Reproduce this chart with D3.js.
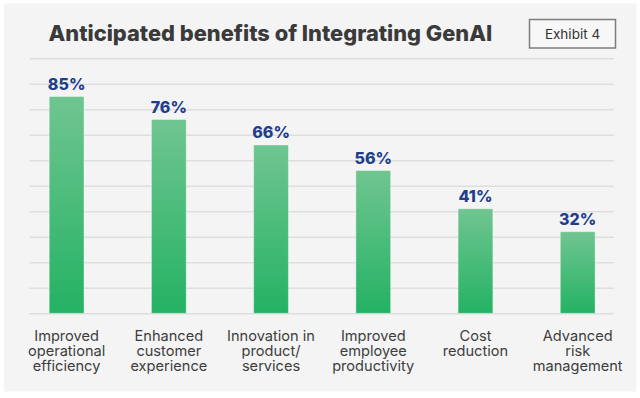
<!DOCTYPE html>
<html>
<head>
<meta charset="utf-8">
<script src="https://cdn.jsdelivr.net/npm/d3@7"></script>
<style>
  body { margin: 0; background: #fff; }
  svg { display: block; font-family: Inter, "Open Sans", sans-serif; }
</style>
</head>
<body>
<script>
// values
var categories = [
  ["Improved", "operational", "efficiency"],
  ["Enhanced", "customer", "experience"],
  ["Innovation in", "product/", "services"],
  ["Improved", "employee", "productivity"],
  ["Cost", "reduction"],
  ["Advanced", "risk", "management"]
];
var values = [85, 76, 66, 56, 41, 32];
var gridTicks = [0, 10, 20, 30, 40, 50, 60, 70, 80, 90, 100];
var title = "Anticipated benefits of Integrating GenAI";
var badge = "Exhibit 4";

var width = 640, height = 398;

var svg = d3.select("body").append("svg")
    .attr("width", width)
    .attr("height", height);

// gradient for the bars
var grad = svg.append("defs").append("linearGradient")
    .attr("id", "barGrad")
    .attr("x1", 0).attr("y1", 0).attr("x2", 0).attr("y2", 1);
grad.append("stop").attr("offset", "0%").attr("stop-color", "#70c590");
grad.append("stop").attr("offset", "100%").attr("stop-color", "#24b264");

// grey card
svg.append("rect")
    .attr("x", 4).attr("y", 3.5)
    .attr("width", 632.5).attr("height", 388)
    .attr("fill", "#f4f4f4");

// title, fitted to the width it has in the picture
var t = svg.append("text")
    .attr("x", 48.5).attr("y", 40.5)
    .attr("fill", "#3a3a3a")
    .style("font-weight", 800)
    .style("font-size", "22px")
    .text(title);
var tw = t.node().getComputedTextLength();
t.style("font-size", (22 * 444 / tw).toFixed(2) + "px");

// badge
svg.append("rect")
    .attr("x", 529.5).attr("y", 19.5)
    .attr("width", 86).attr("height", 28.5)
    .attr("fill", "#f7f7f7")
    .attr("stroke", "#7d7d7d")
    .attr("stroke-width", 1.5);
svg.append("text")
    .attr("x", 572.5).attr("y", 38.8)
    .attr("text-anchor", "middle")
    .attr("fill", "#333")
    .style("font-size", "13.5px")
    .text(badge);

// scales
var x = d3.scaleBand()
    .domain(d3.range(values.length))
    .range([15.5, 628.8])
    .paddingInner(0.66)
    .paddingOuter(0.33);

var y = d3.scaleLinear()
    .domain([0, 100])
    .range([313.3, 58.3]);

// grid
var yAxis = d3.axisLeft(y).tickValues(gridTicks).tickSize(-(614 - 29.5)).tickFormat("");
var gAxis = svg.append("g")
    .attr("transform", "translate(29.5,0)")
    .call(yAxis);
gAxis.select(".domain").remove();
gAxis.selectAll(".tick line")
    .attr("stroke", "#dedede")
    .attr("stroke-width", 1.5);

// bars
svg.append("g").selectAll("rect")
    .data(values)
    .join("rect")
    .attr("x", function(d, i) { return x(i); })
    .attr("y", function(d) { return y(d); })
    .attr("width", x.bandwidth())
    .attr("height", function(d) { return y(0) - y(d); })
    .attr("fill", "url(#barGrad)")
    .attr("stroke", "#ffffff")
    .attr("stroke-opacity", 0.35)
    .attr("stroke-width", 1);

// value labels
svg.append("g").selectAll("text")
    .data(values)
    .join("text")
    .attr("x", function(d, i) { return x(i) + x.bandwidth() / 2; })
    .attr("y", function(d) { return y(d) - 6.8; })
    .attr("text-anchor", "middle")
    .attr("fill", "#1f3e8c")
    .style("font-weight", 800)
    .style("font-size", "16px")
    .text(function(d) { return d + "%"; });

// category labels
var cat = svg.append("g").selectAll("text")
    .data(categories)
    .join("text")
    .attr("x", function(d, i) { return x(i) + x.bandwidth() / 2; })
    .attr("y", 340.7)
    .attr("text-anchor", "middle")
    .attr("fill", "#3d3d3d")
    .style("font-size", "14.6px");
cat.selectAll("tspan")
    .data(function(d) { return d; })
    .join("tspan")
    .attr("x", function() { return d3.select(this.parentNode).attr("x"); })
    .attr("dy", function(d, i) { return i === 0 ? 0 : 15.3; })
    .text(function(d) { return d; });
</script>
</body>
</html>
